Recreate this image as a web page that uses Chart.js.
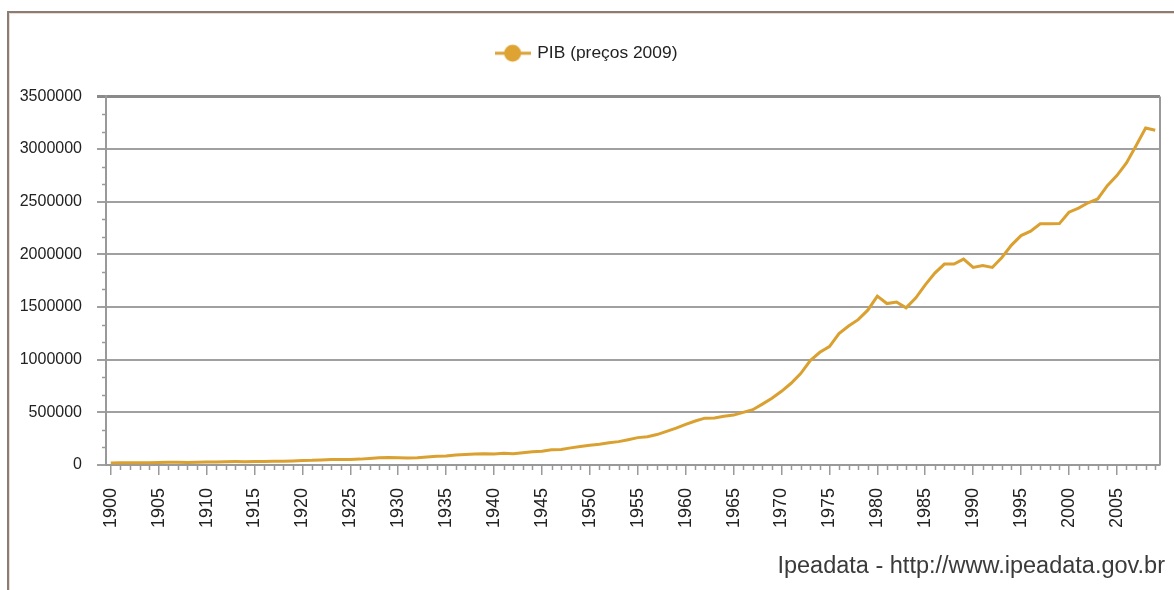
<!DOCTYPE html>
<html>
<head>
<meta charset="utf-8">
<script src="https://cdn.jsdelivr.net/npm/chart.js@4.4.1/dist/chart.umd.min.js"></script>
<style>
  html, body { margin: 0; padding: 0; background: #fff; overflow: hidden; }
  #wrap { position: relative; width: 1174px; height: 590px; }
  #frame { position: absolute; left: 7px; top: 11px; width: 1200px; height: 620px;
           border-left: 2px solid #8b7d75; border-top: 2px solid #8b7d75;
           box-shadow: inset 1px 1px 0 #eadbd3; pointer-events: none; }
  #c { position: absolute; left: 0; top: 0; }
  #src { position: absolute; right: 9px; top: 554px; font-family: "Liberation Sans", Arial, sans-serif;
         font-size: 23.5px; line-height: 23px; color: #3a3a3a; white-space: nowrap; }
</style>
</head>
<body>
<div id="wrap">
  <canvas id="c" width="1174" height="590"></canvas>
  <div id="frame"></div>
  <div id="src">Ipeadata - http://www.ipeadata.gov.br</div>
</div>
<script>
// ---- data (R$ milhões, preços de 2009) ----
const seriesName = 'PIB (preços 2009)';
const years = [
  1900,1901,1902,1903,1904,1905,1906,1907,1908,1909,
  1910,1911,1912,1913,1914,1915,1916,1917,1918,1919,
  1920,1921,1922,1923,1924,1925,1926,1927,1928,1929,
  1930,1931,1932,1933,1934,1935,1936,1937,1938,1939,
  1940,1941,1942,1943,1944,1945,1946,1947,1948,1949,
  1950,1951,1952,1953,1954,1955,1956,1957,1958,1959,
  1960,1961,1962,1963,1964,1965,1966,1967,1968,1969,
  1970,1971,1972,1973,1974,1975,1976,1977,1978,1979,
  1980,1981,1982,1983,1984,1985,1986,1987,1988,1989,
  1990,1991,1992,1993,1994,1995,1996,1997,1998,1999,
  2000,2001,2002,2003,2004,2005,2006,2007,2008,2009
];
const pib = [
  19000,21000,21100,21500,22000,22800,25300,25400,24700,26800,
  28000,29600,31600,32300,32000,32500,32900,36000,35600,39000,
  43800,44600,48300,52600,53300,53400,55800,62200,69300,70100,
  68600,66400,69200,75400,82300,84800,95100,99400,103900,106500,
  105500,110700,107700,116900,125800,129800,144900,148300,162700,176000,
  188000,197000,212000,222000,240000,260000,268000,289000,319000,350000,
  385000,418000,445000,447000,462000,474000,500000,525000,578000,634000,
  700000,776000,868000,992000,1070000,1125000,1248000,1320000,1380000,1470000,
  1603000,1533000,1547000,1492000,1585000,1710000,1822000,1908000,1908000,1955000,
  1876000,1895000,1876000,1970000,2088000,2178000,2220000,2290000,2290000,2292000,
  2400000,2440000,2490000,2526000,2652000,2748000,2868000,3032000,3200000,3178000
];
const yMin = 0;
const yMax = 3500000;
const yStep = 500000;
const xLabelEvery = 5;

// ---- legend icon: line with a circle ----
const icon = document.createElement('canvas');
icon.width = 36; icon.height = 22;
(function(){
  const g = icon.getContext('2d');
  g.strokeStyle = '#D9A236'; g.lineWidth = 3;
  g.beginPath(); g.moveTo(0, 11); g.lineTo(36, 11); g.stroke();
  g.fillStyle = '#DEA333';
  g.beginPath(); g.arc(18, 11, 8.5, 0, Math.PI * 2); g.fill();
})();

const lineColor = '#DAA030';
const gridColor = '#a0a0a0';

const extras = {
  id: 'extras',
  beforeDatasetsDraw(chart) {
    const {ctx, chartArea: a, scales: {x, y}} = chart;
    ctx.save();
    ctx.strokeStyle = '#9a9a9a';
    ctx.lineWidth = 1.5;
    ctx.beginPath();
    x.ticks.forEach((t, i) => {
      if (years[i] % xLabelEvery !== 0) {
        const px = Math.round(x.getPixelForTick(i)) + 0.5;
        ctx.moveTo(px, a.bottom); ctx.lineTo(px, a.bottom + 5);
      }
    });
    for (let v = yMin; v < yMax; v += yStep) {
      for (let k = 1; k < 3; k++) {
        const py = Math.round(y.getPixelForValue(v + k * yStep / 3)) + 0.5;
        ctx.moveTo(a.left - 4, py); ctx.lineTo(a.left, py);
      }
    }
    ctx.stroke();
    ctx.strokeStyle = '#999';
    ctx.lineWidth = 2;
    ctx.beginPath();
    ctx.moveTo(a.right, a.top); ctx.lineTo(a.right, a.bottom);
    ctx.stroke();
    ctx.restore();
  }
};

new Chart(document.getElementById('c'), {
  type: 'line',
  data: {
    labels: years,
    datasets: [{
      label: seriesName,
      data: pib,
      borderColor: lineColor,
      backgroundColor: lineColor,
      borderWidth: 3,
      pointRadius: 0,
      tension: 0,
      fill: false
    }]
  },
  options: {
    responsive: false,
    animation: false,
    devicePixelRatio: 1,
    layout: { padding: { top: 34.5, left: 14, right: 14, bottom: 0 } },
    plugins: {
      legend: {
        position: 'top',
        labels: {
          usePointStyle: true,
          pointStyle: icon,
          pointStyleWidth: 32,
          padding: 10,
          color: '#222',
          font: { family: 'Liberation Sans', size: 17.4 }
        }
      },
      title: {
        display: true, text: '', position: 'top', weight: 500,
        font: { size: 10, lineHeight: 1 },
        padding: { top: 0, bottom: 14.5 }
      },
      tooltip: { enabled: false }
    },
    scales: {
      x: {
        type: 'category',
        offset: true,
        afterFit(s) { s.height = 125; s.paddingLeft = 0; s.paddingRight = 0; },
        grid: {
          offset: false,
          drawOnChartArea: false,
          tickLength: 10,
          lineWidth: 1.5,
          color: c => (years[c.index] % xLabelEvery === 0) ? '#9a9a9a' : 'rgba(0,0,0,0)'
        },
        border: { color: '#999', width: 2 },
        ticks: {
          autoSkip: false,
          minRotation: 90,
          maxRotation: 90,
          padding: 13,
          color: '#222',
          font: { family: 'Liberation Sans', size: 18 },
          callback: (v, i) => (years[i] % xLabelEvery === 0) ? String(years[i]) : ''
        }
      },
      y: {
        min: yMin,
        max: yMax,
        afterFit(s) { s.width = 92; },
        grid: {
          tickLength: 9,
          color: c => (c.tick && c.tick.value === yMax) ? '#8a8a8a' : gridColor,
          lineWidth: c => (c.tick && c.tick.value === yMax) ? 3 : 2
        },
        border: { color: '#999', width: 2 },
        ticks: {
          stepSize: yStep,
          padding: 15,
          color: '#222',
          font: { family: 'Liberation Sans', size: 16 },
          callback: v => String(v)
        }
      }
    }
  },
  plugins: [extras]
});
</script>
</body>
</html>
